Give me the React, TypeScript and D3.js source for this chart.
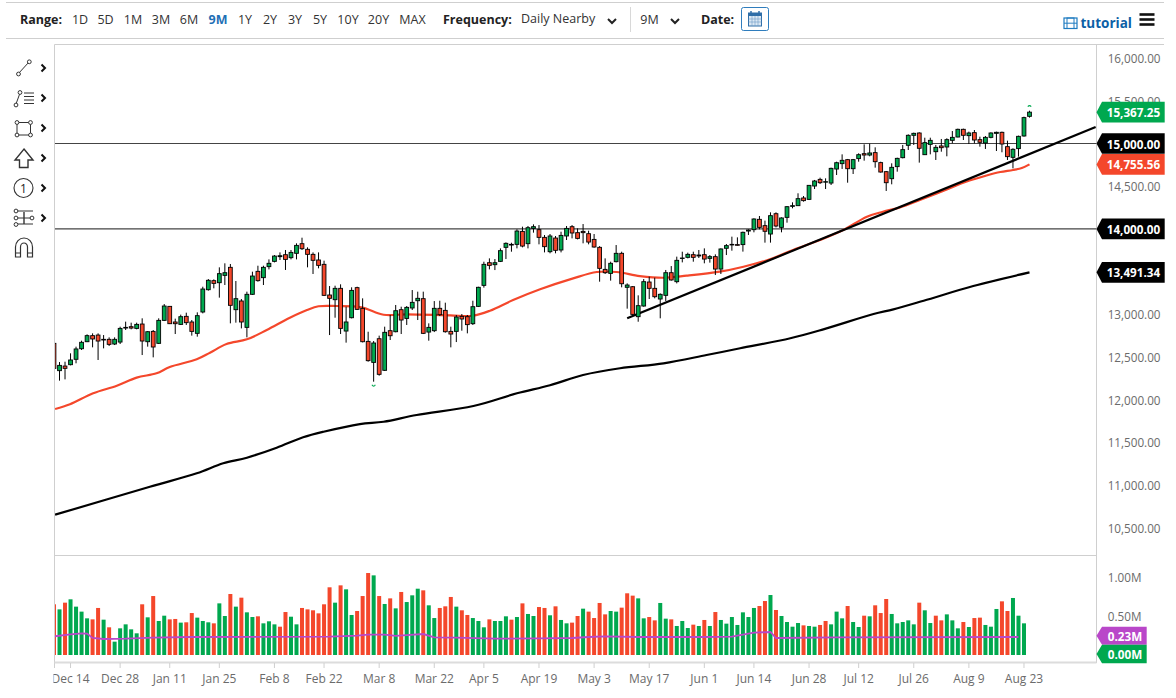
import React, { useEffect, useRef } from 'react';
import * as d3 from 'd3';

const WIDTH = 1176;
const HEIGHT = 698;
const FONT = '"Open Sans", "Noto Sans", sans-serif';

const GREEN = '#00a84f';
const RED = '#f4472b';
const PURPLE = '#b947c9';
const GRID = '#cfcfcf';
const TICK_TEXT = '#6b6b6b';

// daily candles, Dec to Aug 23
const opens = [12660,12340,12394,12410,12473,12597,12679,12750,12757,12707,12707,12652,12675,12839,12855,12835,12886,12679,12800,12660,
  12929,13093,12910,12882,12976,12910,12777,13027,13288,13394,13370,13456,13550,13054,13156,12847,13234,13503,13429,13558,
  13620,13675,13698,13663,13714,13827,13761,13702,13636,13585,13226,13171,13304,12804,12960,13312,13070,12683,12437,12714,
  12344,12808,12796,13054,12952,13074,13159,13183,12792,12808,13070,13046,12800,12800,12976,12972,12890,13093,13339,13604,
  13581,13620,13784,13811,13819,13971,13827,14006,13991,13901,13733,13893,13753,13917,14026,13956,13971,13944,13877,13784,
  13526,13479,13616,13714,13316,13323,12972,13097,13378,13304,13179,13222,13487,13382,13655,13667,13698,13694,13698,13655,
  13675,13530,13773,13819,13816,13816,13975,13991,14112,14038,13940,14178,14018,14135,14264,14272,14362,14346,14502,14580,
  14549,14537,14701,14764,14811,14705,14823,14881,14865,14893,14776,14670,14588,14729,14834,14979,15096,15123,14869,14990,
  14904,14971,14959,15037,15076,15166,15092,15127,15045,15006,15072,15119,15131,14963,14838,14940,15088,15318];
const highs = [12660,12441,12445,12543,12621,12691,12765,12777,12777,12757,12730,12730,12855,12914,12902,12902,12953,12804,12816,12953,
  13120,13097,12949,12996,13019,12933,13023,13323,13413,13409,13550,13597,13589,13390,13179,13265,13499,13569,13569,13643,
  13694,13725,13753,13753,13831,13897,13784,13725,13725,13628,13331,13335,13351,13089,13316,13323,13187,12796,12687,12750,
  12855,12992,13109,13089,13097,13284,13265,13265,12894,13155,13159,13136,12855,12992,13003,12992,13159,13323,13616,13655,
  13647,13772,13842,13838,13995,14026,14034,14053,14045,13928,13940,13917,13967,14034,14045,14006,14057,13979,13940,13799,
  13655,13616,13811,13733,13362,13331,13222,13413,13441,13429,13245,13519,13565,13675,13733,13722,13733,13753,13772,13694,
  13702,13772,13823,13909,13901,13968,13995,14124,14151,14097,14194,14194,14135,14268,14311,14417,14385,14514,14573,14600,
  14592,14717,14787,14873,14819,14819,14885,14990,14998,14955,14787,14678,14768,14834,14983,15107,15127,15131,15068,15068,
  14983,15053,15061,15146,15174,15174,15139,15158,15080,15088,15131,15139,15139,15033,14944,15092,15314,15384];
const lows = [12367,12223,12238,12402,12426,12582,12675,12613,12465,12601,12629,12640,12652,12816,12824,12824,12523,12621,12496,12652,
  12921,12886,12769,12875,12875,12750,12738,13011,13277,13304,13195,13343,12894,12902,12835,12730,13226,13382,13343,13526,
  13608,13636,13519,13643,13643,13753,13550,13472,13538,13214,12757,12960,12769,12668,12952,13050,12671,12445,12211,12281,
  12336,12699,12789,12769,12875,13050,12933,12769,12691,12792,12980,12785,12613,12675,12808,12777,12875,13085,13312,13526,
  13518,13612,13647,13733,13772,13784,13772,13956,13819,13725,13714,13714,13725,13870,13889,13877,13831,13819,13780,13382,
  13472,13394,13608,13316,13066,12992,12913,13089,13179,13187,12953,13156,13394,13362,13608,13655,13616,13659,13597,13605,
  13460,13472,13694,13745,13804,13734,13929,13960,13995,13839,13839,14018,13960,14073,14241,14268,14319,14338,14467,14526,
  14467,14514,14631,14702,14541,14643,14787,14799,14850,14717,14659,14444,14522,14670,14826,14924,14983,14776,14865,14873,
  14807,14904,14850,15002,15072,15041,14994,15002,14963,14936,15061,14912,14897,14807,14709,14846,15080,15303];
const closes = [12367,12402,12367,12465,12594,12672,12750,12711,12687,12699,12648,12707,12835,12847,12839,12882,12687,12796,12617,12929,
  13097,12890,12890,12972,12902,12800,12984,13296,13398,13362,13476,13487,13105,13183,12910,13234,13448,13394,13550,13597,
  13682,13686,13643,13725,13807,13768,13702,13632,13573,13222,13187,13304,12835,12910,13280,13058,12679,12457,12664,12297,
  12789,12749,13042,12933,13081,13140,13187,12777,12847,13070,12995,12796,12769,12968,12945,12879,13089,13316,13585,13573,
  13604,13745,13831,13819,13975,13799,14014,14026,13901,13792,13917,13749,13924,14006,13952,13889,13956,13846,13788,13538,
  13487,13597,13714,13358,13343,12999,13101,13382,13304,13206,13234,13487,13402,13632,13659,13702,13667,13683,13647,13675,
  13530,13765,13804,13812,13808,13960,13987,14116,14018,13972,14155,14034,14128,14260,14272,14354,14331,14510,14561,14541,
  14553,14709,14775,14803,14705,14811,14869,14865,14889,14787,14666,14541,14721,14826,14928,15096,15119,14944,15010,15037,
  14955,14951,15045,15072,15166,15096,15123,15041,15014,15072,15123,15131,14994,14846,14932,15084,15303,15367.25];

// volume in millions, last session has none yet
const volumes = [.650,.585,.671,.714,.620,.556,.470,.457,.603,.453,.355,.171,.342,.393,.329,.278,.650,.483,.756,.436,
  .504,.457,.462,.415,.419,.538,.479,.436,.419,.406,.662,.500,.782,.620,.735,.547,.487,.496,.406,.432,
  .393,.363,.551,.491,.393,.603,.585,.573,.534,.650,.868,.671,.893,.842,.513,.564,.756,1.051,1.021,.756,
  .654,.726,.598,.808,.679,.765,.850,.829,.637,.474,.603,.624,.744,.620,.573,.513,.474,.436,.355,.457,
  .436,.436,.496,.453,.487,.662,.526,.500,.615,.603,.509,.624,.449,.406,.415,.500,.594,.556,.474,.667,
  .521,.564,.556,.607,.791,.761,.726,.470,.487,.444,.667,.466,.457,.372,.436,.346,.389,.372,.449,.372,
  .551,.449,.402,.487,.385,.547,.487,.603,.628,.692,.769,.577,.500,.423,.363,.410,.380,.372,.363,.385,
  .436,.393,.556,.470,.628,.423,.359,.504,.496,.637,.538,.718,.526,.406,.423,.444,.393,.671,.573,.410,
  .504,.444,.521,.444,.342,.423,.359,.474,.479,.385,.363,.590,.688,.564,.731,.504,.406,0];
const volumeSides = ('RGRGGGGRRG' + 'RGGGGGRGRG' + 'GRRGRRGGGR' + 'GGRGRGGRGG' + 'GRRGGRRRRR' + 'RGRGGRRRGR' + 'GRGRGGGRGG' + 'RRRGRRGGGR' + 'GGGRGRGGRR'
  + 'GRGGRRGRRR' + 'RGGRRRGGRR' + 'GGRGGGRGRG' + 'RGGGGGGGRR' + 'GRGGGGRGGR' + 'RGGGRGGRGR' + 'RRGGGGGRGG' + 'RRGGGRGRRG' + 'GGRRGGGG').split('');

const volAvgSessions = [0,3,5,6,7,9,13,18,25,50,55,57,60,62,64,67,69,73,80,88,94,97,100,106,118,123,127,130,131,142,175];
const volAvgValues = [.239,.265,.278,.274,.218,.205,.209,.222,.231,.235,.248,.261,.261,.244,.256,.269,.226,.222,.209,.214,.218,.231,.239,.231,.231,.235,.286,.295,.218,.226,.231];

const fastMaSessions = [0.2,2.9,7.1,11.4,15,18.6,21,25.9,28.3,31.3,35,38.6,42.8,45.9,48,51.3,55.8,59.8,64,71.9,76,79.1,83.3,88.2,94.2,98.5,102.1,106.3,110.6,114.8,120.8,125.1,129.9,134.1,139,143.2,147.5,150.4,153.5,157.1,161.3,165.6,169.2,171.7,174,175.6,177];
const fastMaValues = [11891,11946,12075,12164,12258,12309,12383,12473,12550,12652,12707,12816,12960,13050,13094,13097,13082,12995,13000,12988,12983,13042,13167,13293,13421,13495,13495,13448,13428,13452,13499,13557,13644,13753,13870,13987,14143,14201,14251,14338,14444,14555,14625,14666,14690,14713,14755.56];

const slowMaSessions = [0.2,17.4,25.9,30.7,35,40.4,45.2,48.9,55.5,59.8,65.8,76.1,84,90,96,102.7,110.6,118.4,124.5,133.6,139.6,148.7,152.3,157.8,166.8,177];
const slowMaValues = [10653,10981,11138,11255,11321,11438,11560,11625,11715,11742,11821,11926,12075,12169,12289,12368,12426,12523,12602,12719,12824,13003,13058,13159,13331,13491.34];

const trendSessions = [104, 189];
const trendValues = [12953, 15193];
const levels = [15000, 14000];

const priceTicks = [16000,15500,15000,14500,14000,13500,13000,12500,12000,11500,11000,10500];
const volumeTicks = [1, 0.5];
const dateTickSessions = [3,12,21,30,40,49,59,69,78,88,98,108,118,127,137,146,156,166,176];
const dateTickLabels = ['Dec 14','Dec 28','Jan 11','Jan 25','Feb 8','Feb 22','Mar 8','Mar 22','Apr 5','Apr 19','May 3','May 17','Jun 1','Jun 14','Jun 28','Jul 12','Jul 26','Aug 9','Aug 23'];

const rangeLabels = ['1D','5D','1M','3M','6M','9M','1Y','2Y','3Y','5Y','10Y','20Y','MAX'];
const rangeCenters = [80,105.5,133,161,189,218,245,270,295,320,348,378.5,412.5];

const App: React.FC = () => {
  const svgRef = useRef<SVGSVGElement>(null);

  useEffect(() => {
    if (!svgRef.current) return;
    const svg = d3.select(svgRef.current);
    svg.selectAll('*').remove();

    const plotLeft = 54.5;
    const plotRight = 1096.5;

    const x = d3.scaleLinear().domain([0, 177]).range([54, 1029.5]);
    const y = d3.scaleLinear().domain([10500, 16000]).range([527.8, 58.1]);
    const yVol = d3.scaleLinear().domain([0, 1]).range([655, 577]);

    const defs = svg.append('defs');
    defs.append('clipPath').attr('id', 'plot-clip').append('rect')
      .attr('x', plotLeft + 0.5).attr('y', 45).attr('width', plotRight - plotLeft - 0.5).attr('height', 617);
    defs.append('clipPath').attr('id', 'axis-clip').append('rect')
      .attr('x', plotLeft - 1).attr('y', 660).attr('width', 1080).attr('height', 36);

    // frame
    const frame = svg.append('g').attr('stroke', GRID).attr('stroke-width', 1);
    frame.append('line').attr('x1', 6).attr('x2', 1164).attr('y1', 2.5).attr('y2', 2.5);
    frame.append('line').attr('x1', 6).attr('x2', 1164).attr('y1', 38.5).attr('y2', 38.5);
    frame.append('line').attr('x1', plotLeft).attr('x2', 1164).attr('y1', 44.5).attr('y2', 44.5);
    frame.append('line').attr('x1', plotLeft).attr('x2', plotLeft).attr('y1', 44.5).attr('y2', 668);
    frame.append('line').attr('x1', plotRight).attr('x2', plotRight).attr('y1', 44.5).attr('y2', 663);
    frame.append('line').attr('x1', plotLeft).attr('x2', plotRight).attr('y1', 555.5).attr('y2', 555.5);
    frame.append('line').attr('x1', plotLeft).attr('x2', plotRight).attr('y1', 662.5).attr('y2', 662.5).attr('stroke-width', 2).attr('stroke', '#dcdcdc');
    frame.append('line').attr('x1', 630.5).attr('x2', 630.5).attr('y1', 7).attr('y2', 32).attr('stroke', '#d8d8d8');

    // top bar
    const bar = svg.append('g').attr('font-family', FONT).attr('font-size', 12.5).attr('fill', '#333').attr('dominant-baseline', 'central');
    bar.append('text').attr('x', 20).attr('y', 19).attr('font-weight', 700).attr('fill', '#222').text('Range:');
    rangeLabels.forEach((label, i) => {
      bar.append('text').attr('x', rangeCenters[i]).attr('y', 19).attr('text-anchor', 'middle')
        .attr('font-weight', label === '9M' ? 700 : 400)
        .attr('fill', label === '9M' ? '#1f6fb5' : '#333')
        .text(label);
    });
    bar.append('text').attr('x', 443).attr('y', 19).attr('font-weight', 700).attr('fill', '#222').text('Frequency:');
    bar.append('text').attr('x', 521).attr('y', 18.5).text('Daily Nearby');
    bar.append('text').attr('x', 649.5).attr('y', 19).attr('text-anchor', 'middle').text('9M');
    bar.append('text').attr('x', 701).attr('y', 19).attr('font-weight', 700).attr('fill', '#222').text('Date:');

    [612, 675].forEach(cx => {
      svg.append('path').attr('d', `M${cx - 4},19 L${cx},23 L${cx + 4},19`)
        .attr('fill', 'none').attr('stroke', '#222').attr('stroke-width', 2);
    });

    // calendar button
    const cal = svg.append('g');
    cal.append('rect').attr('x', 741.5).attr('y', 7.5).attr('width', 27).attr('height', 23).attr('rx', 2)
      .attr('fill', '#fff').attr('stroke', '#2f7dbd');
    cal.append('rect').attr('x', 748.5).attr('y', 13).attr('width', 13).attr('height', 13).attr('fill', '#dbe8f4').attr('stroke', '#2f6ea8');
    cal.append('rect').attr('x', 748.5).attr('y', 13).attr('width', 13).attr('height', 3).attr('fill', '#2f6ea8');
    [751, 759].forEach(cx => {
      cal.append('line').attr('x1', cx).attr('x2', cx).attr('y1', 11).attr('y2', 15).attr('stroke', '#2f6ea8').attr('stroke-width', 1.5);
    });
    [752, 755, 758].forEach(cx => {
      cal.append('line').attr('x1', cx).attr('x2', cx).attr('y1', 16).attr('y2', 26).attr('stroke', '#6f9cc6').attr('stroke-width', 0.6);
    });
    [19, 22].forEach(cy => {
      cal.append('line').attr('x1', 748.5).attr('x2', 761.5).attr('y1', cy).attr('y2', cy).attr('stroke', '#6f9cc6').attr('stroke-width', 0.6);
    });

    // tutorial link and menu
    const film = svg.append('g').attr('stroke', '#1c7ac0').attr('fill', 'none');
    film.append('rect').attr('x', 1064).attr('y', 18).attr('width', 13).attr('height', 10.5).attr('stroke-width', 1.2);
    film.append('rect').attr('x', 1067).attr('y', 18).attr('width', 7).attr('height', 10.5).attr('stroke-width', 1);
    film.append('line').attr('x1', 1064).attr('x2', 1077).attr('y1', 23.2).attr('y2', 23.2);
    svg.append('text').attr('x', 1080.5).attr('y', 23).attr('dominant-baseline', 'central')
      .attr('font-family', FONT).attr('font-size', 13.5).attr('font-weight', 700).attr('fill', '#0d5fa6').text('tutorial');
    [14.5, 19.5, 24.5].forEach(cy => {
      svg.append('line').attr('x1', 1139.5).attr('x2', 1154.5).attr('y1', cy).attr('y2', cy).attr('stroke', '#111').attr('stroke-width', 2.6);
    });

    // drawing tools on the left
    const tools = svg.append('g').attr('fill', 'none').attr('stroke', '#333').attr('stroke-width', 1);
    const dot = (cx: number, cy: number) => tools.append('circle').attr('cx', cx).attr('cy', cy).attr('r', 1.9).attr('fill', '#fff');
    tools.append('line').attr('x1', 18.5).attr('y1', 73.5).attr('x2', 29).attr('y2', 62);
    dot(18.5, 74); dot(29.3, 61.8);
    tools.append('line').attr('x1', 16).attr('y1', 104).attr('x2', 20).attr('y2', 93);
    dot(16, 105); dot(20, 92.5);
    [93, 96.5, 100, 103.5].forEach(cy => {
      tools.append('line').attr('x1', 24).attr('x2', 34).attr('y1', cy).attr('y2', cy);
    });
    tools.append('rect').attr('x', 17).attr('y', 122.5).attr('width', 13.5).attr('height', 12.5);
    [[17, 122.5], [30.5, 122.5], [17, 135], [30.5, 135]].forEach(p => dot(p[0], p[1]));
    tools.append('path').attr('d', 'M24,149 L33,160 L28,160 L28,167.5 L19.5,167.5 L19.5,160 L15,160 Z').attr('stroke-width', 1.4);
    tools.append('circle').attr('cx', 23.5).attr('cy', 188).attr('r', 9.5).attr('stroke-width', 1.1);
    svg.append('text').attr('x', 23.5).attr('y', 188.5).attr('text-anchor', 'middle').attr('dominant-baseline', 'central')
      .attr('font-family', FONT).attr('font-size', 12).attr('fill', '#222').text('1');
    tools.append('line').attr('x1', 14).attr('x2', 33).attr('y1', 211).attr('y2', 211);
    tools.append('line').attr('x1', 14).attr('x2', 33).attr('y1', 224).attr('y2', 224);
    tools.append('line').attr('x1', 16).attr('x2', 33).attr('y1', 218).attr('y2', 218);
    tools.append('line').attr('x1', 24).attr('x2', 24).attr('y1', 212).attr('y2', 224).attr('stroke-width', 1.4);
    dot(16, 211); dot(16, 218); dot(16, 224.5); dot(32, 218);
    tools.append('path').attr('d', 'M15.5,257 L15.5,247 A8.5,9 0 0 1 32.5,247 L32.5,257 L27.5,257 L27.5,247 A3.5,4 0 0 0 20.5,247 L20.5,257 Z').attr('stroke-width', 1.2);
    tools.append('line').attr('x1', 15.5).attr('x2', 20.5).attr('y1', 253).attr('y2', 253);
    tools.append('line').attr('x1', 27.5).attr('x2', 32.5).attr('y1', 253).attr('y2', 253);
    [68, 98, 128, 158, 188, 218].forEach(cy => {
      svg.append('path').attr('d', `M41.5,${cy - 3.5} L45,${cy} L41.5,${cy + 3.5}`)
        .attr('fill', 'none').attr('stroke', '#111').attr('stroke-width', 2);
    });

    const plot = svg.append('g').attr('clip-path', 'url(#plot-clip)');

    // horizontal levels
    levels.forEach(level => {
      plot.append('line').attr('x1', plotLeft).attr('x2', plotRight).attr('y1', y(level)).attr('y2', y(level))
        .attr('stroke', '#444').attr('stroke-width', 1.2);
    });

    // moving averages and trendline
    const smooth = d3.line<[number, number]>().curve(d3.curveCatmullRom.alpha(0.5));
    const path = (sessions: number[], values: number[]) =>
      smooth(sessions.map((s, i) => [x(s), y(values[i])] as [number, number])) as string;
    plot.append('path').attr('d', path(slowMaSessions, slowMaValues))
      .attr('fill', 'none').attr('stroke', '#000').attr('stroke-width', 2.2);
    plot.append('path').attr('d', path(fastMaSessions, fastMaValues))
      .attr('fill', 'none').attr('stroke', RED).attr('stroke-width', 2.2);
    plot.append('line')
      .attr('x1', x(trendSessions[0])).attr('y1', y(trendValues[0]))
      .attr('x2', x(trendSessions[1])).attr('y2', y(trendValues[1]))
      .attr('stroke', '#000').attr('stroke-width', 2.2);

    // candles
    const bodyWidth = 3.8;
    opens.forEach((open, i) => {
      const close = closes[i];
      const cx = x(i);
      plot.append('line').attr('x1', cx).attr('x2', cx).attr('y1', y(highs[i])).attr('y2', y(lows[i]))
        .attr('stroke', '#000').attr('stroke-width', 1);
      const top = y(Math.max(open, close));
      const bottom = y(Math.min(open, close));
      plot.append('rect').attr('x', cx - bodyWidth / 2).attr('y', top)
        .attr('width', bodyWidth).attr('height', Math.max(bottom - top, 0.5))
        .attr('fill', close >= open ? GREEN : RED).attr('stroke', '#000').attr('stroke-width', 0.9);
    });

    // high and low marks
    const hiIdx = d3.maxIndex(highs);
    const loIdx = d3.minIndex(lows);
    plot.append('path').attr('d', `M${x(hiIdx) - 1.7},${y(highs[hiIdx]) - 4} q1.7,-2 3.4,0`)
      .attr('fill', 'none').attr('stroke', GREEN).attr('stroke-width', 1.2);
    plot.append('path').attr('d', `M${x(loIdx) - 1.7},${y(lows[loIdx]) + 3} q1.7,3 3.4,0`)
      .attr('fill', 'none').attr('stroke', GREEN).attr('stroke-width', 1.2);

    // volume
    const volWidth = 4;
    volumes.forEach((v, i) => {
      if (!v) return;
      plot.append('rect').attr('x', x(i) - volWidth / 2).attr('y', yVol(v))
        .attr('width', volWidth).attr('height', yVol(0) - yVol(v))
        .attr('fill', volumeSides[i] === 'G' ? GREEN : RED);
    });
    plot.append('path')
      .attr('d', d3.line<number>().x(s => x(s)).y((_, i) => yVol(volAvgValues[i]))(volAvgSessions) as string)
      .attr('fill', 'none').attr('stroke', PURPLE).attr('stroke-width', 1.8);

    // right axis labels
    const axisText = svg.append('g').attr('font-family', FONT).attr('font-size', 11.7).attr('fill', TICK_TEXT)
      .attr('dominant-baseline', 'central');
    priceTicks.forEach(t => {
      axisText.append('text').attr('x', 1160.5).attr('y', y(t)).attr('text-anchor', 'end').text(d3.format(',.2f')(t));
    });
    volumeTicks.forEach(t => {
      axisText.append('text').attr('x', 1141.5).attr('y', yVol(t) - 0.5).attr('text-anchor', 'end').text(`${t.toFixed(2)}M`);
    });

    // value tags
    const tag = (cy: number, h: number, right: number, fill: string, label: string) => {
      const top = cy - h / 2;
      svg.append('path')
        .attr('d', `M${plotRight},${cy} L${plotRight + 5.5},${top} L${right},${top} L${right},${top + h} L${plotRight + 5.5},${top + h} Z`)
        .attr('fill', fill);
      svg.append('text').attr('x', right - 4.5).attr('y', cy).attr('text-anchor', 'end').attr('dominant-baseline', 'central')
        .attr('font-family', FONT).attr('font-size', 11.7).attr('font-weight', 700).attr('fill', '#fff').text(label);
    };
    tag(y(15367.25), 20.6, 1164.7, GREEN, d3.format(',.2f')(15367.25));
    tag(y(15000), 20.6, 1164.7, '#000', d3.format(',.2f')(15000));
    tag(y(14755.56), 20.6, 1164.7, RED, d3.format(',.2f')(14755.56));
    tag(y(14000), 20.6, 1164.7, '#000', d3.format(',.2f')(14000));
    tag(y(13491.34), 20.6, 1164.7, '#000', d3.format(',.2f')(13491.34));
    tag(635.7, 18, 1146.7, PURPLE, '0.23M');
    tag(654, 18.6, 1146.7, GREEN, '0.00M');

    // date axis
    const dates = svg.append('g').attr('clip-path', 'url(#axis-clip)');
    dateTickSessions.forEach((s, i) => {
      dates.append('line').attr('x1', x(s)).attr('x2', x(s)).attr('y1', 663).attr('y2', 668).attr('stroke', GRID);
      dates.append('text').attr('x', x(s)).attr('y', 678).attr('text-anchor', 'middle').attr('dominant-baseline', 'central')
        .attr('font-family', FONT).attr('font-size', 12).attr('fill', TICK_TEXT).text(dateTickLabels[i]);
    });
  }, []);

  return (
    <svg
      ref={svgRef}
      width={WIDTH}
      height={HEIGHT}
      style={{ position: 'absolute', left: 0, top: 0, background: '#fff' }}
    />
  );
};

export default App;
